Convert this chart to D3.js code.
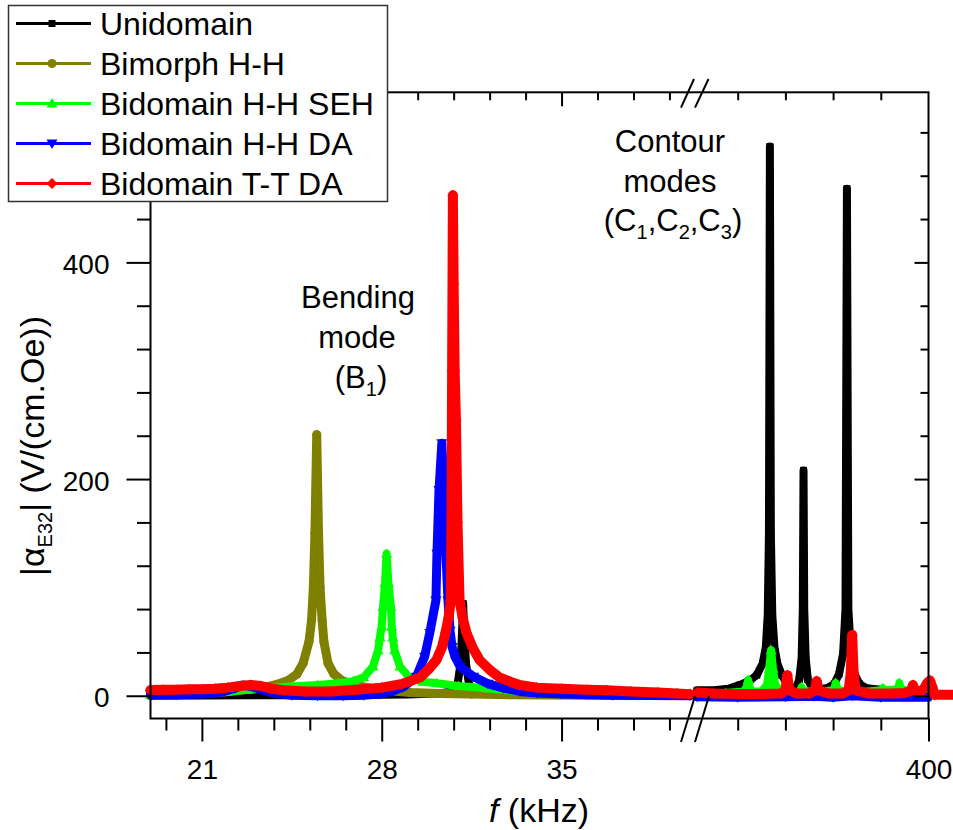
<!DOCTYPE html>
<html>
<head>
<meta charset="utf-8">
<script src="https://cdn.jsdelivr.net/npm/d3@7"></script>
<style>
  body { margin: 0; background: #fff; }
  svg text { font-family: "Liberation Sans", Arial, sans-serif; fill: #000; }
</style>
</head>
<body>
<svg id="chart" width="953" height="830"></svg>
<script>
// legend order is also the drawing order
const seriesNames = ["Unidomain", "Bimorph H-H", "Bidomain H-H SEH", "Bidomain H-H DA", "Bidomain T-T DA"];

// [f (kHz), |aE32|], left part of the broken axis (19-40 kHz)
const uniLeft = [[19,0],[21,0.3],[23,0.5],[25,0.5],[27,0.8],[29,1.2],[30.2,2],[30.7,4],[30.95,10],[31.07,30],[31.13,60],[31.17,85],[31.21,60],[31.28,30],[31.4,10],[31.7,4],[32.5,2],[34,1],[37,0.5],[40,0.3]];
const bimLeft = [[19,1.5],[20,1.8],[20.93,2],[21.7,3],[22.48,5],[23.26,7],[23.85,10],[24.35,14],[24.7,20],[24.94,30],[25.17,50],[25.27,70],[25.34,100],[25.4,150],[25.47,241],[25.54,150],[25.6,100],[25.68,70],[25.75,50],[25.91,30],[26.14,20],[26.45,14],[26.96,10],[27.54,7],[28.13,5],[29.1,3],[30.27,2],[31.5,1.5],[33,1],[36,0.5],[40,0.3]];
const sehLeft = [[19,1],[20,1.5],[21,2.5],[22,4],[22.8,5.5],[23.5,7],[24.5,8.5],[25.5,10],[26.3,11.5],[26.9,13.5],[27.3,17],[27.66,27],[27.86,42],[27.93,54],[28,64],[28.05,82],[28.13,104],[28.19,131],[28.26,104],[28.36,82],[28.39,64],[28.43,54],[28.5,42],[28.71,27],[29.1,16],[29.6,13],[30.15,11.5],[31,9],[32.1,7],[33,5],[34.04,3.5],[35,2.5],[36.5,1.5],[38,1],[40,0.5]];
const hhdaLeft = [[19,1],[20,1],[21,1.5],[21.8,3.5],[22.3,7],[22.6,10],[23,8],[23.4,5],[23.9,2],[24.5,0.5],[25.5,0],[26.5,0],[27.3,0.5],[27.9,1.5],[28.4,4],[28.83,8],[29.35,17.5],[29.67,36],[29.87,58],[30.11,88],[30.15,131],[30.23,190],[30.34,233],[30.42,190],[30.5,131],[30.58,88],[30.66,60],[30.74,45],[30.85,36],[31.05,27],[31.58,17.5],[32.14,11],[32.75,7],[33.38,4],[34.04,2.5],[35,1.5],[37,0.5],[40,0]];
const ttdaLeft = [[19,5.3],[19.5,5.5],[20,5.5],[20.5,6],[21,6],[21.5,6.5],[22,7.5],[22.5,9],[22.9,10],[23.3,9],[23.7,6.5],[24.2,5],[25,4],[26,4],[27,5.5],[28,7.5],[28.8,11],[29.5,17],[29.85,25],[30.13,33],[30.35,45],[30.48,58],[30.6,72],[30.69,88],[30.72,180],[30.74,300],[30.77,462],[30.8,380],[30.84,300],[30.89,254],[30.95,160],[31.03,88],[31.15,72],[31.3,58],[31.55,44],[31.81,33],[32.2,24],[32.58,17],[33,13],[33.36,10],[34.03,7.5],[35,6.5],[36,5.5],[36.77,5],[37.7,4],[38.75,3],[39.5,2],[40,1.5]];

// right part of the broken axis (300-400 kHz), contour modes
const uniRight = [[303,5],[310,5],[316,6.5],[321,10],[325,14],[328,19],[330.5,30],[331.8,45],[332.6,75],[333.1,150],[333.5,507],[333.9,150],[334.5,75],[335.4,45],[336.6,30],[338.5,19],[340.5,12],[342.5,7],[344.5,7],[345.8,15],[346.8,35],[347.3,80],[347.6,208],[347.9,80],[348.5,35],[349.4,15],[351,8],[354,6],[357.5,7],[360.5,11],[362.5,20],[364.2,39],[365.2,80],[365.8,468],[366.4,80],[367.5,39],[369,20],[371,11],[374,7],[380,5.5],[390,4.5],[400,4]];
const bimRight = [];
const sehRight = [[303,2],[315,2.5],[322.5,4],[323.8,8],[324.4,14.5],[325,8],[326,4],[330,4],[332.3,10],[333.2,25],[334,42],[334.8,25],[335.7,10],[338,4],[345,3],[346.3,5],[346.8,8],[347.3,5],[352,3],[360.3,5],[361.1,11.7],[361.9,5],[370,3],[380.4,5],[380.9,7],[381.4,5],[387.3,6],[387.8,11.7],[388.3,6],[395,3],[400,2]];
const hhdaRight = [[303,-1],[320,-1.5],[340,-1],[352,-0.5],[360,-1.5],[368,0],[380,-1.5],[400,-1.5]];
const ttdaRight = [[303.4,3],[310,2],[320,1.5],[330,1.5],[338,2],[340,5],[340.8,19],[341.6,5],[345,2],[350,2],[352.3,5],[353.1,13.5],[353.9,5],[358,2],[364,2],[366.5,5],[367.4,21],[368,56],[368.6,21],[369.5,5],[375,2],[385,2],[390,2.5],[392.8,5],[393.5,10],[394.2,5],[397,4],[398.5,8],[399.5,12],[400.6,14],[401.6,8],[402.5,1],[411,1]];

// ticks
const xLeftMajor = [21, 28, 35];
const xLeftMinor = [19.6, 22.4, 23.8, 25.2, 26.6, 29.4, 30.8, 32.2, 33.6, 36.4, 37.8, 39.2];
const xRightMajor = [400];
const xRightMinor = [320, 340, 360, 380];
const yMajor = [0, 200, 400];
const yMinor = [40, 80, 120, 160, 240, 280, 320, 360, 440, 480, 520];

const colors = ["#000000", "#808000", "#00ff00", "#0000ff", "#ff0000"];
const markerTypes = ["square", "circle", "up", "down", "diamond"];
// dense markers in the original read as a thick band
const bandWidths = [8, 9, 8, 9, 10];

const lefts = [uniLeft, bimLeft, sehLeft, hhdaLeft, ttdaLeft];
const rights = [uniRight, bimRight, sehRight, hhdaRight, ttdaRight];

const svg = d3.select("#chart");
const font = '"Liberation Sans", Arial, sans-serif';

const xL = d3.scaleLinear().domain([19, 40]).range([150.5, 690]);
const xR = d3.scaleLinear().domain([300, 400]).range([690, 928.5]);
const y = d3.scaleLinear().domain([-21, 557]).range([718.5, 92.3]);

function markerPath(type) {
  if (type === "circle") return d3.symbol(d3.symbolCircle, 64)();
  if (type === "square") return "M-3.5,-3.5h7v7h-7Z";
  if (type === "up") return "M0,-5.5L5.5,4L-5.5,4Z";
  if (type === "down") return "M0,5.5L5.5,-4L-5.5,-4Z";
  return "M0,-5.5L5.5,0L0,5.5L-5.5,0Z";
}

// data
seriesNames.forEach(function(name, i) {
  let g = svg.append("g").attr("class", "series");
  [[lefts[i], xL], [rights[i], xR]].forEach(function(part) {
    let data = part[0], x = part[1];
    if (!data.length) return;
    let line = d3.line().x(d => x(d[0])).y(d => y(d[1]));
    g.append("path")
      .attr("d", line(data))
      .attr("fill", "none")
      .attr("stroke", colors[i])
      .attr("stroke-width", bandWidths[i])
      .attr("stroke-linejoin", "round")
      .attr("stroke-linecap", "round");
    g.selectAll(null)
      .data(data)
      .enter()
      .append("path")
      .attr("d", markerPath(markerTypes[i]))
      .attr("transform", d => `translate(${x(d[0])},${y(d[1])})`)
      .attr("fill", colors[i]);
  });
});

// axes
const yBottom = y(-21), yTop = y(557), xLeft = xL(19), xRight = xR(400);

let gb = svg.append("g").attr("transform", `translate(0,${yBottom})`);
gb.append("g").call(d3.axisBottom(xL).tickValues(xLeftMinor).tickSize(12).tickFormat(""));
gb.append("g").call(d3.axisBottom(xL).tickValues(xLeftMajor).tickSize(23).tickPadding(18).tickFormat(d3.format("d")));
gb.append("g").call(d3.axisBottom(xR).tickValues(xRightMinor).tickSize(12).tickFormat(""));
gb.append("g").call(d3.axisBottom(xR).tickValues(xRightMajor).tickSize(23).tickPadding(18).tickFormat(d3.format("d")));

let gt = svg.append("g").attr("transform", `translate(0,${yTop})`);
gt.append("g").call(d3.axisTop(xL).tickValues(xLeftMinor).tickSize(-8).tickFormat(""));
gt.append("g").call(d3.axisTop(xL).tickValues(xLeftMajor).tickSize(-14).tickFormat(""));
gt.append("g").call(d3.axisTop(xR).tickValues(xRightMinor).tickSize(-8).tickFormat(""));

let gl = svg.append("g").attr("transform", `translate(${xLeft},0)`);
gl.append("g").call(d3.axisLeft(y).tickValues(yMinor).tickSize(13.5).tickFormat(""));
gl.append("g").call(d3.axisLeft(y).tickValues(yMajor).tickSize(24).tickPadding(17).tickFormat(d3.format("d")));

let gr = svg.append("g").attr("transform", `translate(${xRight},0)`);
gr.append("g").call(d3.axisRight(y).tickValues(yMinor).tickSize(-8).tickFormat(""));
gr.append("g").call(d3.axisRight(y).tickValues(yMajor).tickSize(-14).tickFormat(""));

svg.selectAll(".domain").remove();
svg.selectAll(".tick line").attr("stroke", "#000").attr("stroke-width", 2);
svg.selectAll(".tick text").attr("font-size", 28).attr("font-family", font).attr("fill", "#000");
gl.selectAll(".tick text").attr("dy", "0.4em");

// frame
svg.append("rect")
  .attr("x", xLeft).attr("y", yTop)
  .attr("width", xRight - xLeft).attr("height", yBottom - yTop)
  .attr("fill", "none").attr("stroke", "#000").attr("stroke-width", 2);

// axis break marks
const breaks = [[681, 742, 695, 696], [695, 742, 709, 696], [681, 107.6, 694, 79], [695, 107.6, 708.5, 79]];
svg.selectAll(null)
  .data(breaks)
  .enter()
  .append("line")
  .attr("x1", d => d[0]).attr("y1", d => d[1])
  .attr("x2", d => d[2]).attr("y2", d => d[3])
  .attr("stroke", "#000").attr("stroke-width", 2);

// axis titles
let xt = svg.append("text")
  .attr("x", 539).attr("y", 822)
  .attr("text-anchor", "middle").attr("font-size", 34);
xt.append("tspan").attr("font-style", "italic").text("f");
xt.append("tspan").text(" (kHz)");

let yt = svg.append("text")
  .attr("transform", "translate(44,446) rotate(-90)")
  .attr("text-anchor", "middle").attr("font-size", 34);
yt.append("tspan").text("|α");
yt.append("tspan").attr("font-size", 20).attr("dy", 8).text("E32");
yt.append("tspan").attr("dy", -8).text("| (V/(cm.Oe))");

// annotations; objects in the list are subscripts
function note(x, yy, parts) {
  let t = svg.append("text").attr("x", x).attr("y", yy)
    .attr("text-anchor", "middle").attr("font-size", 31);
  let back = 0;
  parts.forEach(function(p) {
    if (typeof p === "object") {
      t.append("tspan").attr("font-size", 20).attr("dy", 8).text(p.sub);
      back = -8;
    } else {
      t.append("tspan").attr("dy", back).text(p);
      back = 0;
    }
  });
}
note(358, 308, ["Bending"]);
note(357, 348, ["mode"]);
note(361, 388, ["(B", {sub: "1"}, ")"]);
note(670, 152, ["Contour"]);
note(670, 192, ["modes"]);
note(673, 231, ["(C", {sub: "1"}, ",C", {sub: "2"}, ",C", {sub: "3"}, ")"]);

// legend
let lg = svg.append("g");
lg.append("rect")
  .attr("x", 8.5).attr("y", 5.5).attr("width", 379).attr("height", 196)
  .attr("fill", "#fff").attr("stroke", "#333").attr("stroke-width", 1.5);
seriesNames.forEach(function(name, i) {
  let ly = 23.5 + 40 * i;
  lg.append("line")
    .attr("x1", 16).attr("x2", 91).attr("y1", ly).attr("y2", ly)
    .attr("stroke", colors[i]).attr("stroke-width", 3);
  lg.append("path")
    .attr("d", markerPath(markerTypes[i]))
    .attr("transform", `translate(52,${ly})`)
    .attr("fill", colors[i]);
  lg.append("text")
    .attr("x", 100).attr("y", ly + 11.5)
    .attr("font-size", 32)
    .text(name);
});
</script>
</body>
</html>
